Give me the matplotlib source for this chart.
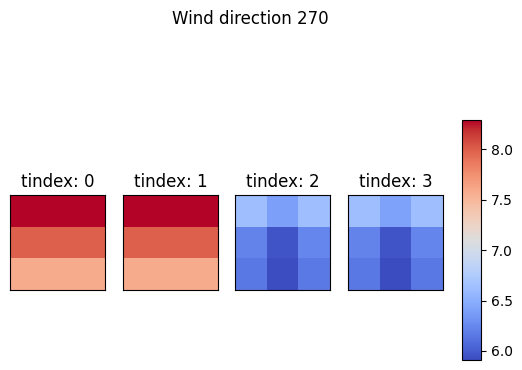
import numpy as np
import matplotlib
matplotlib.use('Agg')
import matplotlib.pyplot as plt

# Wind speed grids per time index (3x3)
tindex = [0, 1, 2, 3]
grid_0 = [[8.29, 8.29, 8.29],
          [7.99, 7.99, 7.99],
          [7.58, 7.58, 7.58]]
grid_1 = [[8.29, 8.29, 8.29],
          [7.99, 7.99, 7.99],
          [7.58, 7.58, 7.58]]
grid_2 = [[6.63, 6.40, 6.63],
          [6.22, 5.96, 6.24],
          [6.16, 5.92, 6.17]]
grid_3 = [[6.63, 6.41, 6.63],
          [6.22, 5.96, 6.23],
          [6.16, 5.91, 6.16]]
grids = [grid_0, grid_1, grid_2, grid_3]
vmin, vmax = 5.91, 8.29

fig = plt.figure(figsize=(5.22, 3.7), dpi=100)
fig.suptitle('Wind direction 270', x=0.479, y=0.973, fontsize=12)

lefts = [10, 123, 235, 348]
for i, g in enumerate(grids):
    ax = fig.add_axes([lefts[i] / 522, 80 / 370, 95 / 522, 95 / 370])
    im = ax.imshow(np.array(g), cmap='coolwarm', vmin=vmin, vmax=vmax)
    ax.set_xticks([])
    ax.set_yticks([])
    ax.set_title('tindex: %d' % tindex[i], fontsize=12)

cax = fig.add_axes([462 / 522, 10 / 370, 19 / 522, 240 / 370])
cb = fig.colorbar(im, cax=cax)
cb.set_ticks([6.0, 6.5, 7.0, 7.5, 8.0])

plt.savefig('out.png', dpi=100)
